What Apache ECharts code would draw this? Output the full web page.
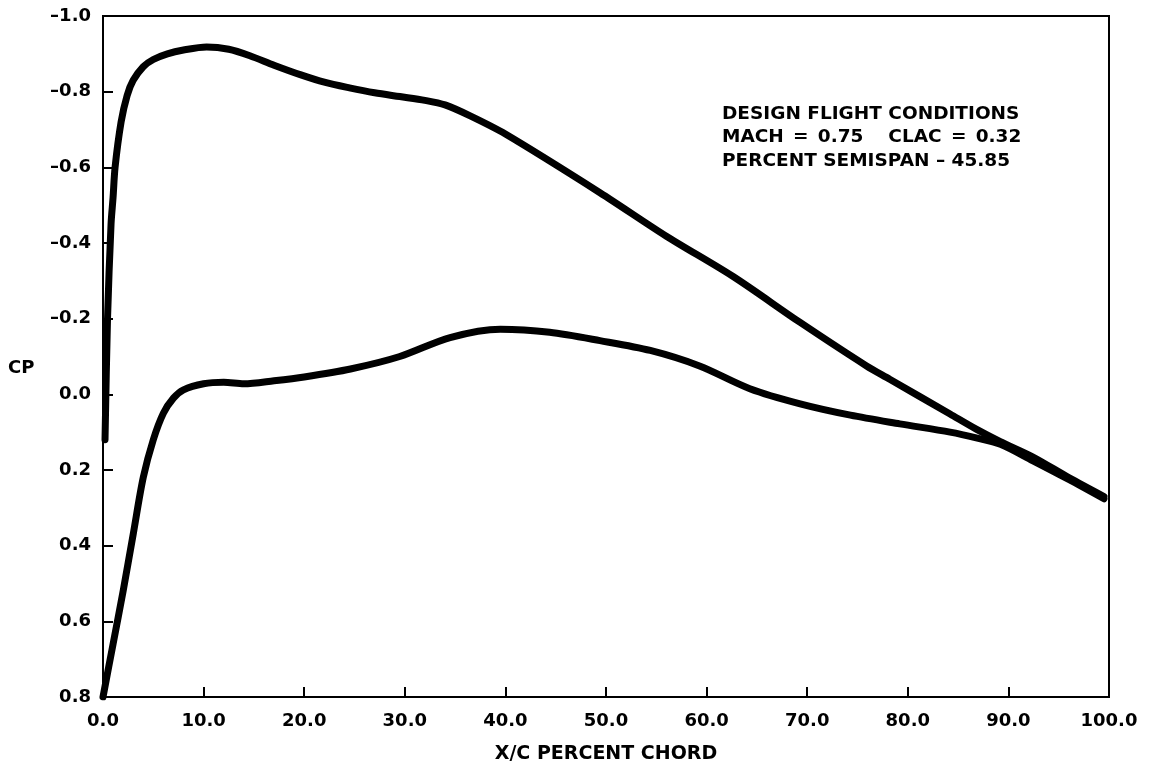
<!DOCTYPE html>
<html>
<head>
<meta charset="utf-8">
<script src="https://cdn.jsdelivr.net/npm/echarts@6/dist/echarts.min.js"></script>
<style>
  html, body { margin: 0; padding: 0; background: #fff; }
  #chart { width: 1150px; height: 769px; }
</style>
</head>
<body>
<div id="chart"></div>
<script>
// Upper-surface pressure distribution (x/c in percent, Cp)
const xUpper  = [0.2, 0.45, 0.8, 1.0, 1.2, 1.8, 2.4, 3.0, 4.0, 5.0, 6.4, 8.0, 10.3, 12.5, 14.6, 17.0, 19.6, 22.0, 24.5, 27.0, 29.5, 32.0, 34.0, 36.5, 40.0, 49.4, 56.0, 62.6, 69.3, 75.9, 78.2, 84.2, 86.8, 89.2, 92.4, 96.0, 99.5];
const cpUpper = [0.12, -0.20, -0.45, -0.52, -0.60, -0.72, -0.79, -0.83, -0.866, -0.885, -0.90, -0.91, -0.918, -0.912, -0.895, -0.87, -0.845, -0.825, -0.81, -0.797, -0.787, -0.777, -0.765, -0.736, -0.688, -0.533, -0.418, -0.312, -0.19, -0.075, -0.04, 0.052, 0.092, 0.125, 0.165, 0.22, 0.27];

// Lower-surface pressure distribution
const xLower  = [0.0, 1.0, 2.0, 3.0, 4.0, 5.0, 6.0, 7.0, 8.0, 10.0, 12.0, 14.0, 17.0, 20.0, 24.6, 29.5, 34.5, 39.5, 44.4, 49.4, 54.4, 59.3, 64.3, 69.3, 74.3, 79.2, 84.2, 86.8, 89.2, 92.4, 96.0, 99.5];
const cpLower = [0.80, 0.66, 0.52, 0.37, 0.22, 0.12, 0.05, 0.01, -0.012, -0.028, -0.032, -0.028, -0.036, -0.046, -0.067, -0.10, -0.15, -0.172, -0.164, -0.142, -0.116, -0.075, -0.015, 0.025, 0.055, 0.078, 0.10, 0.115, 0.132, 0.175, 0.225, 0.276];

// Axis ranges and steps
const xRange = [0, 100, 10];
const yRange = [-1.0, 0.8, 0.2];

const noteLines = [
  'DESIGN FLIGHT CONDITIONS',
  'MACH\u2002=\u20020.75\u2002\u2002 CLAC\u2002=\u20020.32',
  'PERCENT SEMISPAN \u2013 45.85'
];

const FONT = '"DejaVu Sans", "Liberation Sans", sans-serif';
const pair = (xs, ys) => xs.map((x, i) => [x, ys[i]]);

const chart = echarts.init(document.getElementById('chart'), null, { renderer: 'canvas' });

const curveStyle = { color: '#000', width: 7, cap: 'round', join: 'round' };

chart.setOption({
  backgroundColor: '#fff',
  animation: false,
  grid: {
    left: 103, right: 41, top: 16, bottom: 70,
    show: true, borderColor: '#000', borderWidth: 2, backgroundColor: 'transparent'
  },
  xAxis: {
    type: 'value',
    min: xRange[0], max: xRange[1], interval: xRange[2],
    name: 'X/C PERCENT CHORD',
    nameLocation: 'middle',
    nameGap: 48,
    nameTextStyle: { fontFamily: FONT, fontWeight: 'bold', fontSize: 19, color: '#000' },
    axisLine: { show: true, onZero: false, lineStyle: { color: '#000', width: 2 } },
    axisTick: { show: true, inside: true, length: 10, lineStyle: { color: '#000', width: 2 } },
    axisLabel: {
      margin: 15, fontFamily: FONT, fontWeight: 'bold', fontSize: 18, color: '#000',
      formatter: v => v.toFixed(1)
    },
    splitLine: { show: false }
  },
  yAxis: {
    type: 'value',
    inverse: true,
    min: yRange[0], max: yRange[1], interval: yRange[2],
    axisLine: { show: true, onZero: false, lineStyle: { color: '#000', width: 2 } },
    axisTick: { show: true, inside: true, length: 10, lineStyle: { color: '#000', width: 2 } },
    axisLabel: {
      margin: 12, fontFamily: FONT, fontWeight: 'bold', fontSize: 18, color: '#000',
      formatter: v => {
        const r = Math.round(v * 10) / 10;
        return r < 0 ? '\u2013' + Math.abs(r).toFixed(1) : Math.abs(r).toFixed(1);
      }
    },
    splitLine: { show: false }
  },
  graphic: [
    {
      type: 'text', left: 8, top: 359,
      style: { text: 'CP', font: 'bold 18px ' + FONT, fill: '#000' }
    },
    {
      type: 'text', left: 722, top: 102,
      style: { text: noteLines.join('\n'), font: 'bold 18.5px ' + FONT, fill: '#000', lineHeight: 23.5 }
    }
  ],
  series: [
    {
      name: 'Upper surface', type: 'line', data: pair(xUpper, cpUpper),
      showSymbol: false, symbol: 'none', smooth: 0.3, lineStyle: curveStyle
    },
    {
      name: 'Lower surface', type: 'line', data: pair(xLower, cpLower),
      showSymbol: false, symbol: 'none', smooth: 0.3, lineStyle: curveStyle
    }
  ]
});
</script>
</body>
</html>
